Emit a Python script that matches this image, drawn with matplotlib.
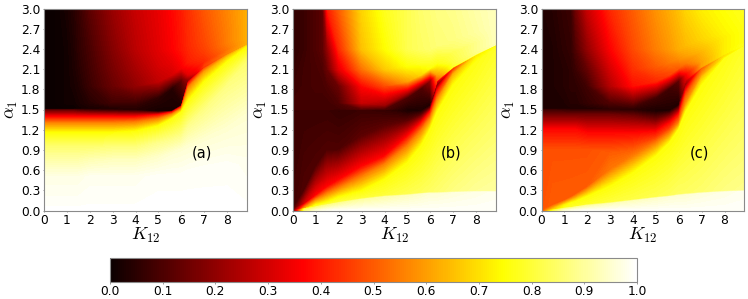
import numpy as np
import matplotlib
matplotlib.use('Agg')
import matplotlib.pyplot as plt

plt.rcParams['mathtext.fontset'] = 'cm'

K12 = [0, 0.5, 1, 1.3, 1.5, 2, 3, 4, 5, 5.6, 6, 6.3, 7, 8, 8.85]
alpha_ticks = [0.0, 0.3, 0.6, 0.9, 1.2, 1.5, 1.8, 2.1, 2.4, 2.7, 3.0]
K_ticks = [0, 1, 2, 3, 4, 5, 6, 7, 8]
cbar_ticks = [0.0, 0.1, 0.2, 0.3, 0.4, 0.5, 0.6, 0.7, 0.8, 0.9, 1.0]
panel_labels = ['(a)', '(b)', '(c)']

a_zero = [0]*15
a_below = [1.49, 1.49, 1.49, 1.49, 1.49, 1.49, 1.49, 1.49, 1.47, 1.48, 1.56, 1.92, 2.12, 2.31, 2.455]
a_above = [1.51, 1.51, 1.51, 1.51, 1.51, 1.51, 1.51, 1.51, 1.51, 1.5, 1.58, 1.94, 2.14, 2.33, 2.465]
a_pocket = [1.6, 1.6, 1.6, 1.6, 1.6, 1.6, 1.6, 1.57, 1.68, 1.82, 1.93, 2.02, 2.2, 2.38, 2.5]
a_mid = [1.85, 1.85, 1.85, 1.85, 1.85, 1.85, 1.85, 1.85, 1.92, 2.02, 2.12, 2.2, 2.35, 2.5, 2.6]
a_mid2 = [2.1, 2.1, 2.1, 2.1, 2.1, 2.1, 2.1, 2.1, 2.15, 2.2, 2.25, 2.3, 2.42, 2.57, 2.67]
a_high = [2.4, 2.4, 2.4, 2.4, 2.4, 2.4, 2.4, 2.4, 2.4, 2.4, 2.4, 2.45, 2.55, 2.65, 2.75]
a_top = [3.0]*15

# panel (a)
a1 = [.5, .5, .5, .5, .5, .5, .5, .5, .5, .5, .5, .55, .6, .65, .7]
a1x = [.75, .75, .75, .75, .75, .75, .75, .75, .8, .85, .9, .95, 1.05, 1.2, 1.4]
a2 = [.95, .95, .95, .95, .95, .95, .95, .95, 1.0, 1.05, 1.1, 1.25, 1.5, 1.85, 2.2]
a3 = [1.15, 1.15, 1.15, 1.15, 1.15, 1.15, 1.15, 1.17, 1.25, 1.36, 1.46, 1.62, 1.9, 2.2, 2.42]
a4 = [1.3, 1.3, 1.3, 1.3, 1.3, 1.3, 1.3, 1.31, 1.36, 1.43, 1.51, 1.82, 2.05, 2.27, 2.44]
a5 = [1.39, 1.39, 1.39, 1.39, 1.39, 1.39, 1.39, 1.39, 1.42, 1.46, 1.54, 1.89, 2.1, 2.3, 2.45]
v_a = [
    [.995]*15,
    [.97, .97, .97, .97, .97, .98, .98, .98, .99, .99, .99, .99, .99, .99, .98],
    [.91, .91, .91, .91, .91, .92, .93, .93, .94, .95, .95, .95, .95, .95, .95],
    [.85, .85, .85, .85, .85, .85, .86, .86, .88, .88, .88, .88, .87, .87, .85],
    [.75, .75, .75, .75, .75, .75, .75, .75, .75, .75, .75, .75, .75, .75, .74],
    [.55, .55, .55, .55, .55, .55, .55, .55, .55, .55, .55, .55, .6, .66, .7],
    [.37, .37, .37, .37, .37, .37, .37, .37, .37, .37, .37, .37, .5, .6, .66],
    [.12, .12, .12, .12, .1, .08, .06, .04, .02, .02, .04, .2, .42, .55, .62],
    [0, 0, 0, 0, .01, .02, .03, .04, .02, .02, .03, .2, .45, .55, .62],
    [0, 0, .01, .01, .02, .04, .08, .06, .05, .04, .12, .32, .42, .53, .62],
    [0, 0, .01, .02, .03, .07, .14, .2, .27, .3, .35, .4, .45, .55, .62],
    [0, 0, .01, .025, .04, .08, .16, .23, .3, .33, .37, .41, .46, .55, .62],
    [0, 0, .01, .03, .05, .09, .18, .26, .32, .36, .39, .42, .47, .55, .62],
    [0, 0, .02, .04, .06, .12, .21, .28, .33, .37, .4, .43, .49, .56, .62],
]

# panel (b)
b1 = [.005, .02, .05, .07, .08, .11, .16, .2, .22, .24, .25, .25, .26, .27, .27]
b1x = [.007, .025, .06, .08, .09, .125, .18, .22, .24, .26, .27, .27, .28, .29, .29]
b2 = [.01, .03, .08, .1, .12, .19, .28, .45, .7, .95, 1.2, 1.45, 1.85, 2.2, 2.4]
b3 = [.02, .07, .16, .21, .25, .33, .5, .68, .95, 1.18, 1.37, 1.65, 2.02, 2.27, 2.43]
b4 = [.03, .1, .22, .3, .35, .45, .65, .8, 1.1, 1.3, 1.47, 1.78, 2.07, 2.3, 2.44]
b5 = [.05, .3, .65, .8, .9, .9, 1.1, 1.25, 1.33, 1.42, 1.53, 1.86, 2.11, 2.32, 2.45]
v_b = [
    [.08, .85, .95, .97, .98, .99, .99, .99, .99, .99, .99, .99, .99, .99, .99],
    [.08, .8, .85, .86, .87, .88, .9, .91, .93, .94, .95, .95, .96, .97, .98],
    [.08, .72, .78, .8, .8, .8, .8, .8, .82, .83, .84, .85, .87, .89, .9],
    [.08, .6, .75, .75, .75, .75, .75, .75, .75, .75, .75, .75, .75, .76, .78],
    [.08, .45, .55, .55, .55, .55, .55, .55, .55, .55, .55, .55, .62, .72, .76],
    [.08, .3, .37, .37, .37, .37, .37, .37, .37, .37, .37, .37, .5, .7, .75],
    [.08, .1, .1, .1, .1, .1, .12, .12, .12, .12, .12, .15, .42, .68, .75],
    [.07, .07, .07, .07, .07, .06, .07, .06, .03, .03, .03, .3, .45, .7, .75],
    [.08, .08, .08, .08, .08, .08, .12, .1, .03, .03, .03, .5, .78, .87, .92],
    [.08, .08, .08, .08, .08, .1, .28, .22, .1, .1, .2, .6, .8, .88, .93],
    [.07, .08, .09, .09, .1, .14, .37, .47, .6, .68, .75, .77, .82, .88, .93],
    [.06, .08, .09, .1, .14, .32, .53, .66, .75, .78, .8, .8, .85, .89, .93],
    [.05, .07, .1, .12, .2, .42, .65, .74, .82, .84, .85, .86, .87, .9, .93],
    [.05, .07, .1, .12, .4, .5, .68, .77, .82, .85, .86, .87, .88, .91, .93],
]

# panel (c)
c1 = [.005, .01, .03, .04, .05, .07, .1, .14, .18, .2, .22, .23, .25, .27, .28]
c1x = [.007, .015, .04, .05, .06, .09, .12, .16, .2, .22, .24, .25, .27, .29, .3]
c2 = [.01, .04, .08, .11, .13, .2, .35, .55, .8, 1.0, 1.2, 1.45, 1.85, 2.25, 2.43]
c3 = [.05, .08, .15, .2, .24, .35, .6, .8, 1.0, 1.15, 1.3, 1.58, 1.97, 2.27, 2.435]
c3x = [.9, .9, .9, .9, .9, .9, .85, .95, 1.08, 1.22, 1.38, 1.68, 2.0, 2.28, 2.437]
c4 = [1.2, 1.2, 1.2, 1.2, 1.2, 1.15, 1.15, 1.15, 1.17, 1.3, 1.43, 1.75, 2.05, 2.3, 2.44]
c5 = [1.42, 1.42, 1.42, 1.42, 1.42, 1.42, 1.42, 1.4, 1.35, 1.42, 1.52, 1.87, 2.1, 2.3, 2.45]
v_c = [
    [.45, .8, .95, .97, .98, .99, .99, .99, .99, .99, .99, .99, .99, .99, .99],
    [.45, .7, .85, .87, .88, .9, .92, .93, .94, .95, .95, .95, .96, .97, .98],
    [.45, .66, .76, .78, .78, .78, .8, .81, .82, .83, .84, .84, .85, .87, .88],
    [.46, .6, .72, .75, .75, .75, .75, .75, .75, .75, .75, .75, .75, .76, .78],
    [.48, .5, .5, .5, .5, .5, .54, .55, .55, .55, .55, .58, .65, .72, .76],
    [.48, .48, .48, .48, .48, .48, .5, .47, .45, .45, .45, .5, .6, .7, .76],
    [.37, .37, .37, .37, .37, .37, .37, .37, .37, .37, .37, .42, .55, .7, .76],
    [.15, .15, .15, .15, .15, .15, .15, .15, .15, .15, .15, .2, .5, .68, .76],
    [.08, .08, .07, .06, .06, .06, .06, .05, .03, .03, .04, .25, .5, .68, .76],
    [.03, .03, .03, .03, .03, .03, .05, .05, .03, .03, .03, .3, .6, .72, .77],
    [.03, .03, .03, .04, .04, .06, .1, .1, .08, .08, .12, .35, .6, .72, .76],
    [.03, .03, .04, .05, .05, .08, .25, .38, .42, .46, .5, .55, .63, .72, .76],
    [.03, .03, .04, .05, .07, .13, .3, .43, .5, .54, .57, .6, .65, .72, .76],
    [.03, .03, .05, .06, .1, .2, .36, .47, .55, .59, .62, .64, .68, .73, .76],
    [.03, .04, .06, .07, .15, .28, .42, .5, .58, .62, .65, .68, .72, .75, .77],
]

lower_a = [a1, a1x, a2, a3, a4, a5]
lower_b = [b1, b1x, b2, b3, b4, b5]
lower_c = [c1, c1x, c2, c3, c3x, c4, c5]

W, H = 748, 299
fig = plt.figure(figsize=(W/100, H/100), dpi=100)
lefts = [44, 293, 541.5]
grey = '#8a8a8a'
levels = np.linspace(0, 1, 129)

for left, lower, vals, lab in zip(lefts, [lower_a, lower_b, lower_c], [v_a, v_b, v_c], panel_labels):
    ax = fig.add_axes([left/W, 1 - 210.5/H, 202.5/W, 202/H])
    rows = [a_zero] + lower + [a_below, a_above, a_pocket, a_mid, a_mid2, a_high, a_top]
    X = np.tile(K12, (len(rows), 1))
    ax.contourf(X, np.array(rows), np.array(vals), levels=levels, cmap='hot', vmin=0, vmax=1, extend='both')
    ax.set_xlim(0, 8.85)
    ax.set_ylim(0, 3)
    ax.set_xticks(K_ticks)
    ax.set_yticks(alpha_ticks)
    ax.set_yticklabels(['%.1f' % t for t in alpha_ticks])
    ax.tick_params(labelsize=8.8, length=1, width=0.6, pad=1.5, color=grey)
    ax.set_xlabel('$K_{12}$', fontsize=13, labelpad=-1)
    ax.set_ylabel(r'$\alpha_1$', fontsize=13, labelpad=1)
    for s in ax.spines.values():
        s.set_color(grey)
        s.set_linewidth(0.8)
    ax.text(6.9, 0.85, lab, fontsize=10.5, ha='center', va='center', color='black')

cax = fig.add_axes([110/W, 1 - 282/H, 527/W, 24/H])
sm = plt.cm.ScalarMappable(norm=plt.Normalize(0, 1), cmap='hot')
cb = fig.colorbar(sm, cax=cax, orientation='horizontal', ticks=cbar_ticks)
cb.ax.tick_params(labelsize=8.8, length=1.5, width=0.6, pad=1, color=grey)
cb.outline.set_edgecolor(grey)
cb.outline.set_linewidth(0.8)

fig.savefig('out.png', dpi=100)
